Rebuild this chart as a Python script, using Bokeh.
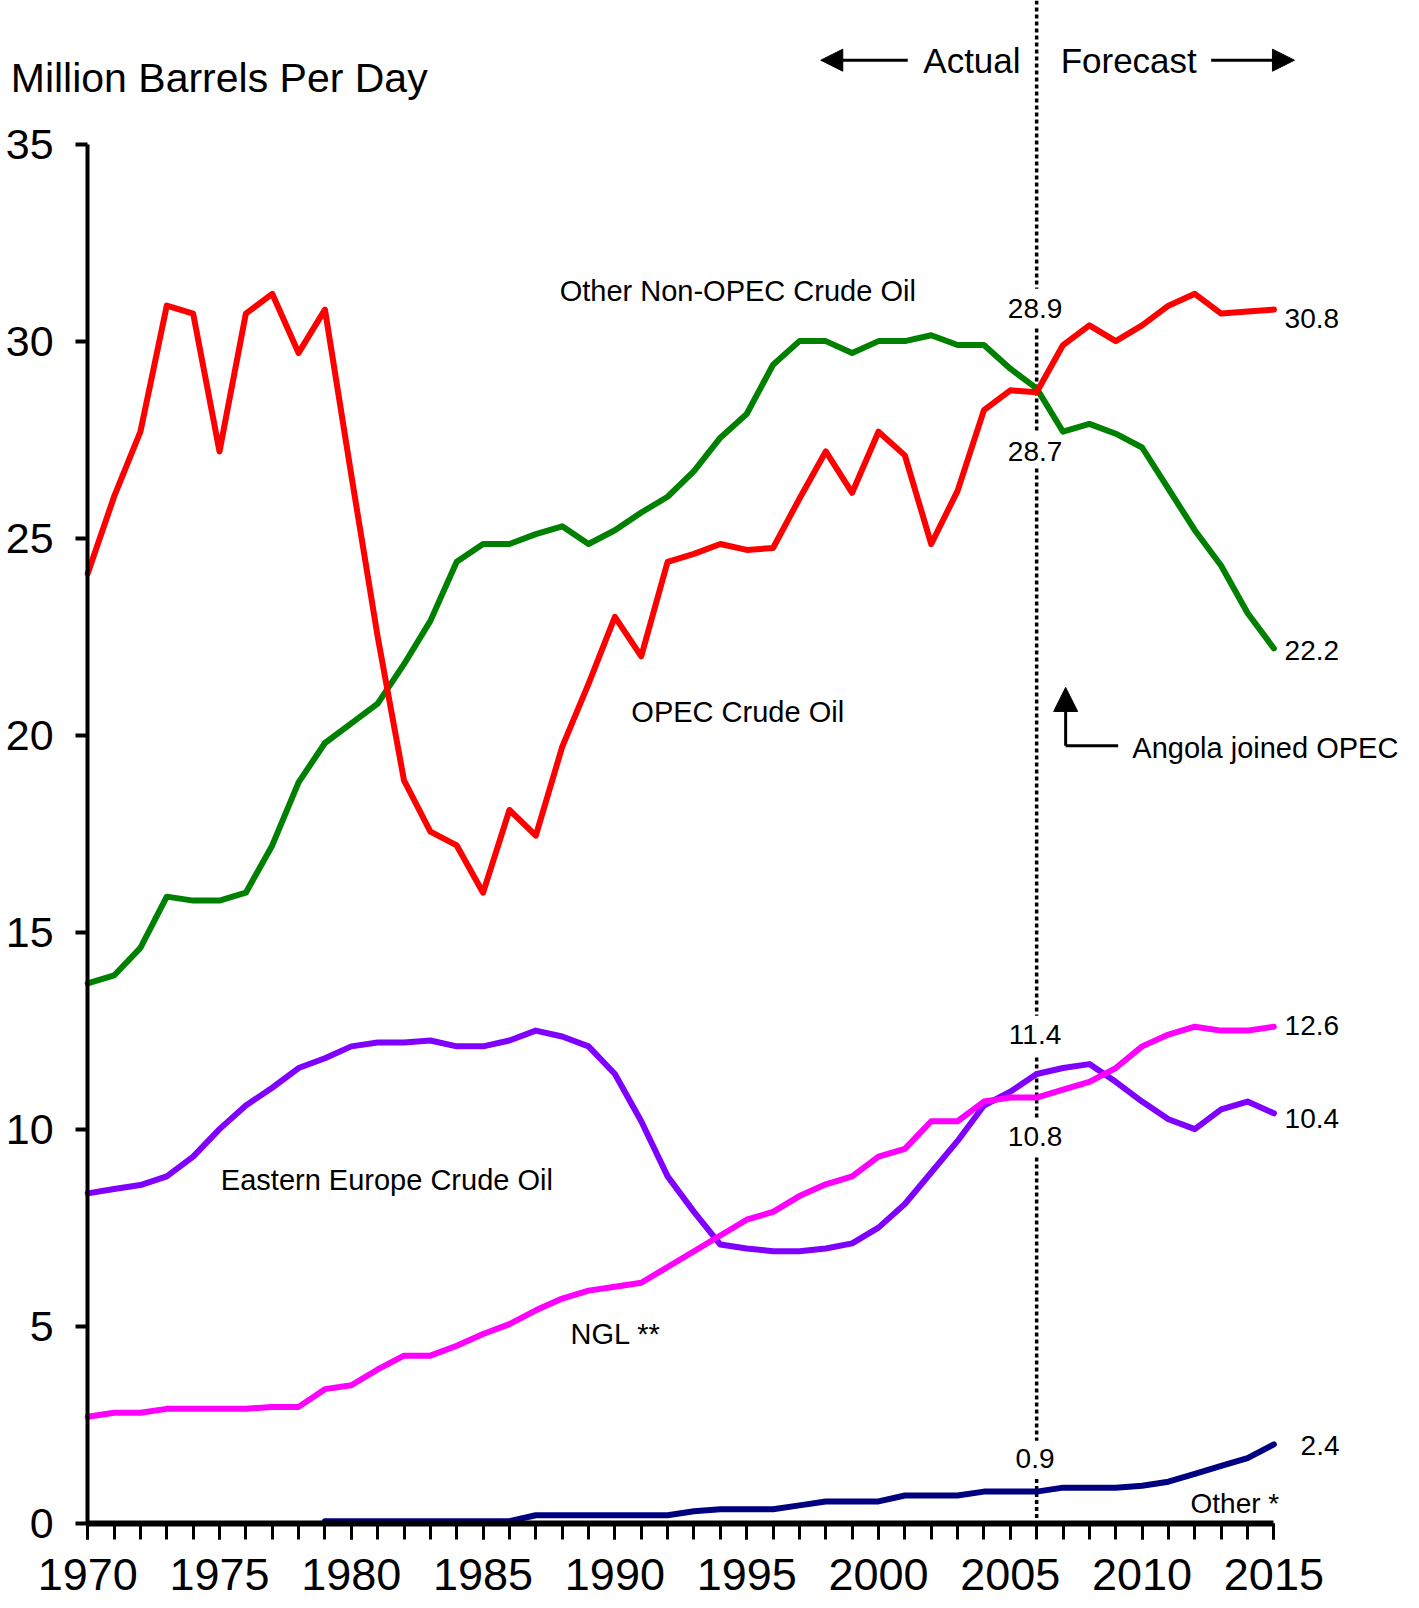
from bokeh.plotting import figure
from bokeh.models import (Range1d, SingleIntervalTicker, Label, Arrow, NormalHead)
from bokeh.embed import file_html
from bokeh.resources import INLINE

# ---------------- data ----------------
years = list(range(1970, 2016))

opec_crude = [24.1, 26.05, 27.7, 30.9, 30.7, 27.2, 30.7, 31.2, 29.7, 30.8,
              26.6, 22.5, 18.85, 17.55, 17.2, 16.0, 18.1, 17.45, 19.7, 21.3,
              23.0, 22.0, 24.4, 24.6, 24.85, 24.7, 24.75, 26.0, 27.2, 26.15,
              27.7, 27.1, 24.85, 26.2, 28.25, 28.75, 28.7, 29.9, 30.4, 30.0,
              30.4, 30.9, 31.2, 30.7, 30.75, 30.8]

other_non_opec = [13.7, 13.9, 14.6, 15.9, 15.8, 15.8, 16.0, 17.2, 18.8, 19.8,
                  20.3, 20.8, 21.8, 22.9, 24.4, 24.85, 24.85, 25.1, 25.3, 24.85,
                  25.2, 25.65, 26.05, 26.7, 27.55, 28.15, 29.4, 30.0, 30.0, 29.7,
                  30.0, 30.0, 30.15, 29.9, 29.9, 29.3, 28.8, 27.7, 27.9, 27.65,
                  27.3, 26.25, 25.2, 24.3, 23.1, 22.2]

eastern_europe = [8.37, 8.48, 8.58, 8.8, 9.3, 10.0, 10.6, 11.05, 11.55, 11.8,
                  12.1, 12.2, 12.2, 12.25, 12.1, 12.1, 12.25, 12.5, 12.35, 12.1,
                  11.4, 10.2, 8.8, 7.9, 7.07, 6.97, 6.9, 6.9, 6.97, 7.1,
                  7.5, 8.1, 8.9, 9.7, 10.6, 10.95, 11.4, 11.55, 11.65, 11.2,
                  10.7, 10.25, 10.0, 10.5, 10.7, 10.4]

ngl = [2.7, 2.8, 2.8, 2.9, 2.9, 2.9, 2.9, 2.95, 2.95, 3.4,
       3.5, 3.9, 4.25, 4.25, 4.5, 4.8, 5.05, 5.4, 5.7, 5.9,
       6.0, 6.1, 6.5, 6.9, 7.3, 7.7, 7.9, 8.3, 8.6, 8.8,
       9.3, 9.5, 10.2, 10.2, 10.7, 10.8, 10.8, 11.0, 11.2, 11.55,
       12.1, 12.4, 12.6, 12.5, 12.5, 12.6]

other_years = list(range(1979, 2016))
other = [0.05, 0.05, 0.05, 0.05, 0.05, 0.05, 0.05, 0.05, 0.2, 0.2,
         0.2, 0.2, 0.2, 0.2, 0.3, 0.35, 0.35, 0.35, 0.45, 0.55,
         0.55, 0.55, 0.7, 0.7, 0.7, 0.8, 0.8, 0.8, 0.9, 0.9,
         0.9, 0.95, 1.05, 1.25, 1.45, 1.65, 2.0]

forecast_start = 2006

# ---------------- figure ----------------
FONT = "Liberation Sans"
Y_TOP = 38.645

p = figure(width=1415, height=1605, output_backend="svg", toolbar_location=None,
           title=None,
           x_range=Range1d(1966.692, 2020.372), y_range=Range1d(-2.091, Y_TOP),
           min_border_left=0, min_border_right=0, min_border_top=0,
           min_border_bottom=0)
p.background_fill_color = "white"
p.border_fill_color = "white"
p.outline_line_color = None
p.xgrid.visible = False
p.ygrid.visible = False

# x axis (drawn at y = 0)
xa = p.xaxis[0]
xa.fixed_location = 0
xa.ticker = SingleIntervalTicker(interval=5, num_minor_ticks=5)
xa.bounds = (1970, 2015)
xa.axis_line_width = 6
xa.axis_line_color = "black"
xa.major_tick_in = 0
xa.major_tick_out = 16
xa.minor_tick_in = 0
xa.minor_tick_out = 16
xa.major_tick_line_width = 3
xa.minor_tick_line_width = 3
xa.major_tick_line_color = "black"
xa.minor_tick_line_color = "black"
xa.major_label_text_font = FONT
xa.major_label_text_font_size = "45px"
xa.major_label_text_color = "black"
xa.major_label_standoff = 20

# y axis (drawn at x = 1970)
ya = p.yaxis[0]
ya.fixed_location = 1970
ya.ticker = SingleIntervalTicker(interval=5, num_minor_ticks=0)
ya.bounds = (0, 35)
ya.axis_line_width = 4
ya.axis_line_color = "black"
ya.major_tick_in = 0
ya.major_tick_out = 12
ya.major_tick_line_width = 4
ya.major_tick_line_color = "black"
ya.minor_tick_out = 0
ya.minor_tick_in = 0
ya.major_label_text_font = FONT
ya.major_label_text_font_size = "43px"
ya.major_label_text_color = "black"
ya.major_label_standoff = 22

# vertical dotted divider (with gaps for value labels)
seg_y = [(Y_TOP, 31.33), (30.32, 27.68), (26.77, 12.88), (11.82, 10.29),
         (9.28, 2.09), (1.12, 0.0)]
p.multi_line(xs=[[forecast_start, forecast_start] for _ in seg_y],
             ys=[list(s) for s in seg_y],
             line_color="black", line_width=3.5, line_dash="4 3")

# series
lw = 6
p.line(years, other_non_opec, line_color="#008000", line_width=lw,
       line_join="round", line_cap="round")
p.line(years, opec_crude, line_color="#FF0000", line_width=lw,
       line_join="round", line_cap="round")
p.line(years, eastern_europe, line_color="#8000FF", line_width=lw,
       line_join="round", line_cap="round")
p.line(years, ngl, line_color="#FF00FF", line_width=lw,
       line_join="round", line_cap="round")
p.line(other_years, other, line_color="#000080", line_width=lw,
       line_join="round", line_cap="round")


def label(x, y, text, size, align="center", baseline="middle"):
    p.add_layout(Label(x=x, y=y, text=text, text_font=FONT,
                       text_font_size=size, text_color="black",
                       text_align=align, text_baseline=baseline))


# titles / series names
label(1967.08, 36.69, "Million Barrels Per Day", "41px", align="left")
label(1994.66, 31.28, "Other Non-OPEC Crude Oil", "29px")
label(1994.66, 20.58, "OPEC Crude Oil", "29px")
label(1981.35, 8.72, "Eastern Europe Crude Oil", "29px")
label(1990.03, 4.81, "NGL **", "29px")
label(2013.52, 0.50, "Other *", "28px")

# values
label(2005.94, 30.84, "28.9", "28px")
label(2005.94, 27.20, "28.7", "28px")
label(2005.94, 12.39, "11.4", "28px")
label(2005.94, 9.81, "10.8", "28px")
label(2005.94, 1.64, "0.9", "28px")
label(2016.44, 30.58, "30.8", "28px")
label(2016.44, 22.15, "22.2", "28px")
label(2016.44, 12.62, "12.6", "28px")
label(2016.44, 10.28, "10.4", "28px")
label(2016.75, 1.98, "2.4", "28px")

# Actual / Forecast
label(2005.39, 37.13, "Actual", "35px", align="right")
label(2006.91, 37.13, "Forecast", "35px", align="left")
p.add_layout(Arrow(end=NormalHead(size=22, fill_color="black", line_color="black"),
                   x_start=2001.11, y_start=37.13, x_end=1997.81, y_end=37.13,
                   line_width=3, line_color="black"))
p.add_layout(Arrow(end=NormalHead(size=22, fill_color="black", line_color="black"),
                   x_start=2012.62, y_start=37.13, x_end=2015.78, y_end=37.13,
                   line_width=3, line_color="black"))

# Angola note
p.add_layout(Arrow(end=NormalHead(size=24, fill_color="black", line_color="black"),
                   x_start=2007.1, y_start=19.73, x_end=2007.1, y_end=21.21,
                   line_width=3, line_color="black"))
p.line([2007.1, 2009.09], [19.73, 19.73], line_color="black", line_width=3)
label(2009.63, 19.67, "Angola joined OPEC", "29px", align="left")

open("out.html", "w").write(file_html(p, INLINE))
